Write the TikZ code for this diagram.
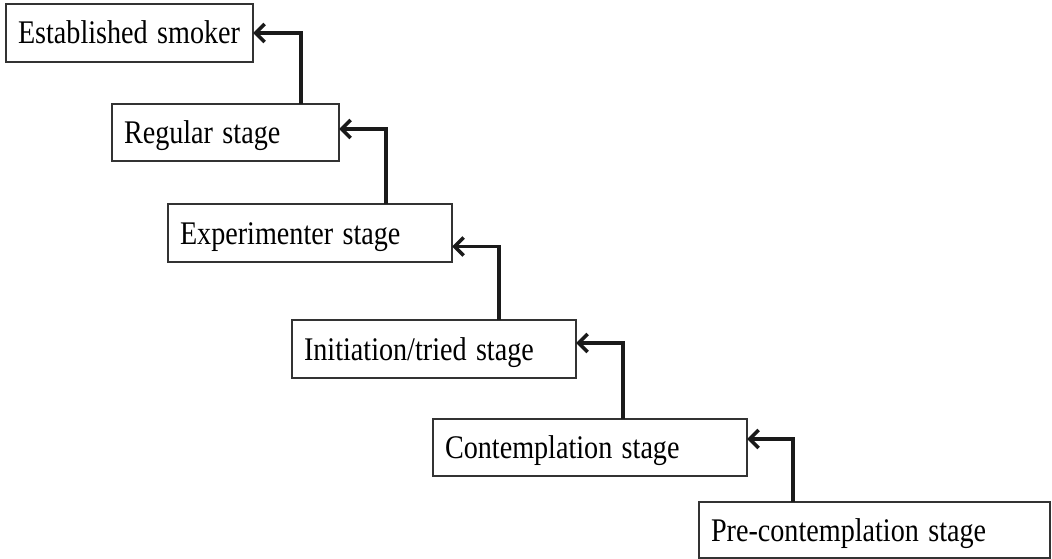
\documentclass[tikz,border=0pt]{standalone}
\usepackage{fontspec}
\setmainfont{Liberation Serif}
\usetikzlibrary{arrows.meta}
\definecolor{boxline}{HTML}{333333}
\definecolor{arrline}{HTML}{1A1A1A}
\newcommand{\stagetext}[1]{\scalebox{0.853}[1]{#1}}
\begin{document}
\begin{tikzpicture}[x=1pt,y=-1pt,
  stagebox/.style={draw=boxline, line width=1.3pt, anchor=north west,
    inner xsep=12pt, inner ysep=0pt, outer sep=0pt, align=left,
    text height=22pt, text depth=0pt,
    font=\fontsize{33}{40}\selectfont},
  arr/.style={draw=arrline, line width=3.6pt,
    -{Straight Barb[length=9pt,width=18pt]}}]
\useasboundingbox (0,0) rectangle (1052,559);
\fill[white] (0,0) rectangle (1052,559);

\node[stagebox, text width=223pt, minimum height=58pt] (b1) at (6,4) {\stagetext{Established smoker}};
\node[stagebox, text width=203pt, minimum height=57pt] (b2) at (112,104) {\stagetext{Regular stage}};
\node[stagebox, text width=260pt, minimum height=58pt] (b3) at (168,204) {\stagetext{Experimenter stage}};
\node[stagebox, text width=260pt, minimum height=58pt] (b4) at (292,320) {\stagetext{Initiation/tried stage}};
\node[stagebox, text width=290pt, minimum height=57pt] (b5) at (433,419) {\stagetext{Contemplation stage}};
\node[stagebox, text width=327pt, minimum height=56pt] (b6) at (699,502) {\stagetext{Pre-contemplation stage}};

\draw[arr] ([xshift=189pt]b2.north west) |- ([yshift=-29pt]b1.north east);
\draw[arr] ([xshift=218pt]b3.north west) |- ([yshift=-25pt]b2.north east);
\draw[arr] ([xshift=207pt]b4.north west) |- ([yshift=-42.5pt]b3.north east);
\draw[arr] ([xshift=190pt]b5.north west) |- ([yshift=-23pt]b4.north east);
\draw[arr] ([xshift=94pt]b6.north west) |- ([yshift=-20pt]b5.north east);
\end{tikzpicture}
\end{document}
